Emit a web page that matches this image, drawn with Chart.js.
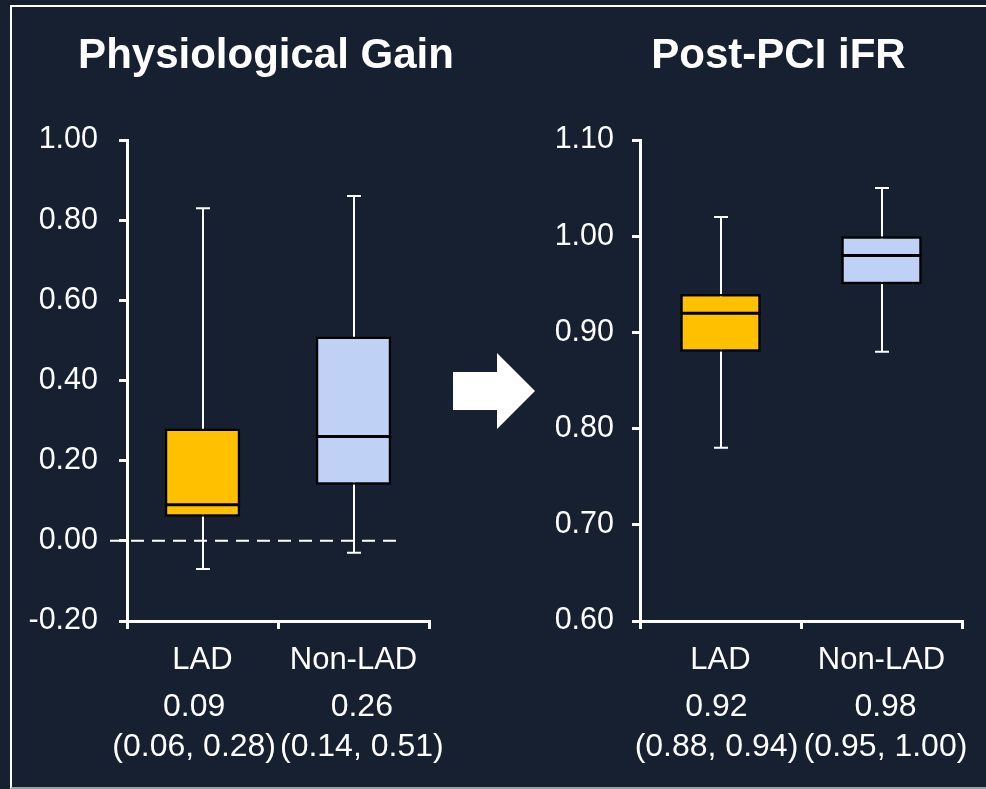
<!DOCTYPE html>
<html>
<head>
<meta charset="utf-8">
<script src="https://cdn.jsdelivr.net/npm/chart.js@4/dist/chart.umd.min.js"></script>
<style>
  html, body { margin: 0; padding: 0; background: #162030; overflow: hidden; }
  #stage { position: relative; width: 986px; height: 789px; }
  #frame { position: absolute; left: 10px; top: 5px; width: 1000px; height: 780px;
           border-left: 2px solid #fff; border-top: 2px solid #fff; border-bottom: 2px solid #9aa0a8; }
  canvas { position: absolute; top: 0; }
  #gain { left: 0; }
  #ifr  { left: 531px; }
  #arrow { position: absolute; left: 0; top: 0; }
</style>
</head>
<body>
<div id="stage">
  <div id="frame"></div>
  <canvas id="gain" width="530" height="789"></canvas>
  <canvas id="ifr" width="455" height="789"></canvas>
  <svg id="arrow" width="986" height="789">
    <polygon points="453,372 497,372 497,353 535,391 497,429 497,410 453,410" fill="#fff"/>
  </svg>
</div>
<script>
// ---- data ----
const categories = ['LAD', 'Non-LAD'];
const boxColors  = ['#FFC000', '#BFD1F5'];

// Physiological gain
const gainMin    = [-0.07, -0.03];
const gainQ1     = [0.06, 0.14];
const gainMedian = [0.09, 0.26];
const gainQ3     = [0.28, 0.51];
const gainMax    = [0.83, 0.86];
const gainAxis   = { min: -0.2, max: 1.0, step: 0.2 };

// Post-PCI iFR
const ifrMin    = [0.78, 0.88];
const ifrQ1     = [0.88, 0.95];
const ifrMedian = [0.92, 0.98];
const ifrQ3     = [0.94, 1.00];
const ifrMax    = [1.02, 1.05];
const ifrAxis   = { min: 0.6, max: 1.1, step: 0.1 };

const FONT = "'Liberation Sans', Arial, sans-serif";
Chart.defaults.font.family = FONT;
Chart.defaults.color = '#fff';

// whiskers, medians, optional dashed zero line and the panel title
function boxPlugin(mins, maxs, medians, opts) {
  return {
    id: 'boxWhiskers',
    beforeDatasetsDraw(chart) {
      const { ctx, scales: { x, y }, chartArea } = chart;
      ctx.save();
      ctx.strokeStyle = '#fff';
      ctx.lineWidth = 2;
      mins.forEach((lo, i) => {
        const cx = Math.round(x.getPixelForValue(i));
        const top = y.getPixelForValue(maxs[i]);
        const bot = y.getPixelForValue(lo);
        ctx.beginPath();
        ctx.moveTo(cx, top); ctx.lineTo(cx, bot);
        ctx.moveTo(cx - 7, top); ctx.lineTo(cx + 7, top);
        ctx.moveTo(cx - 7, bot); ctx.lineTo(cx + 7, bot);
        ctx.stroke();
      });
      if (opts.zeroLine) {
        const y0 = y.getPixelForValue(0);
        ctx.setLineDash([13, 8]);
        ctx.beginPath();
        ctx.moveTo(chartArea.left - 17, y0);
        ctx.lineTo(chartArea.right - 32, y0);
        ctx.stroke();
      }
      ctx.restore();
    },
    afterDatasetsDraw(chart) {
      const { ctx, scales: { y } } = chart;
      const bars = chart.getDatasetMeta(0).data;
      ctx.save();
      ctx.strokeStyle = '#000';
      ctx.lineWidth = 3;
      medians.forEach((m, i) => {
        const b = bars[i];
        const py = y.getPixelForValue(m);
        ctx.beginPath();
        ctx.moveTo(b.x - b.width / 2, py);
        ctx.lineTo(b.x + b.width / 2, py);
        ctx.stroke();
      });
      ctx.restore();
    },
    afterDraw(chart) {
      const ctx = chart.ctx;
      ctx.save();
      ctx.fillStyle = '#fff';
      ctx.font = `bold 42px ${FONT}`;
      ctx.textAlign = 'center';
      ctx.textBaseline = 'middle';
      ctx.fillText(opts.title, opts.titleX, 56);
      ctx.restore();
    }
  };
}

function makeBoxChart(id, axis, mins, q1, medians, q3, maxs, opts) {
  const fmt = v => (Math.abs(v) < 1e-9 ? 0 : v).toFixed(2);
  const statLabels = categories.map((c, i) => [fmt(medians[i]), `(${fmt(q1[i])}, ${fmt(q3[i])})`]);

  return new Chart(document.getElementById(id), {
    type: 'bar',
    data: {
      labels: categories,
      datasets: [{
        data: q1.map((v, i) => [v, q3[i]]),
        backgroundColor: boxColors,
        borderColor: '#000',
        borderWidth: 2.5,
        borderSkipped: false,
        barPercentage: 0.5,
        categoryPercentage: 1
      }]
    },
    options: {
      responsive: false,
      animation: false,
      devicePixelRatio: 1,
      layout: { padding: { left: 0, right: opts.padRight, top: 140, bottom: 26 } },
      plugins: {
        legend: { display: false },
        tooltip: { enabled: false }
      },
      scales: {
        x: {
          offset: true,
          weight: 0,
          grid: { drawOnChartArea: false, color: '#fff', lineWidth: 3, tickLength: 8, offset: true },
          border: { color: '#fff', width: 3 },
          ticks: { color: '#fff', font: { size: 31, lineHeight: 1.2 }, padding: 12.4, autoSkip: false, maxRotation: 0 }
        },
        // median and IQR text, spread a little wider than the categories as in the original
        x2: {
          type: 'linear',
          position: 'bottom',
          min: -0.5,
          max: 1.5,
          offset: false,
          weight: 1,
          afterBuildTicks: s => {
            s.ticks = categories.map((c, i) => ({ value: i + (i - 0.5) * (opts.spread - 1) }));
          },
          grid: { display: false, drawTicks: false, offset: false },
          border: { display: false },
          ticks: { color: '#fff', font: { size: 32, lineHeight: 1.25 }, padding: -4, autoSkip: false, maxRotation: 0,
                   callback: (v, i) => statLabels[i] }
        },
        y: {
          min: axis.min,
          max: axis.max,
          grid: { drawOnChartArea: false, color: '#fff', lineWidth: 3, tickLength: 8 },
          border: { color: '#fff', width: 3 },
          ticks: { stepSize: axis.step, color: '#fff', font: { size: 30.5 }, padding: opts.tickPad, callback: fmt },
          afterFit: s => { s.width = opts.axisWidth; }
        }
      }
    },
    plugins: [boxPlugin(mins, maxs, medians, opts)]
  });
}

makeBoxChart('gain', gainAxis, gainMin, gainQ1, gainMedian, gainQ3, gainMax,
  { title: 'Physiological Gain', titleX: 266, padRight: 101, axisWidth: 127, tickPad: 21, spread: 1.11, zeroLine: true });
makeBoxChart('ifr', ifrAxis, ifrMin, ifrQ1, ifrMedian, ifrQ3, ifrMax,
  { title: 'Post-PCI iFR', titleX: 247.5, padRight: 24, axisWidth: 109, tickPad: 18, spread: 1.05, zeroLine: false });
</script>
</body>
</html>
